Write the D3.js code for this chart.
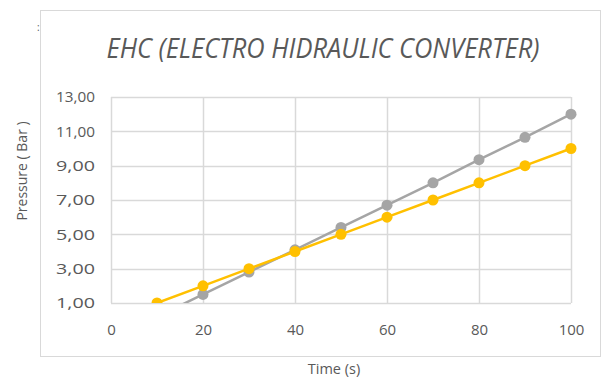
<!DOCTYPE html>
<html>
<head>
<meta charset="utf-8">
<script src="https://cdn.jsdelivr.net/npm/d3@7"></script>
<style>
  body { margin: 0; background: #fff; }
  text { font-family: "Open Sans", "Liberation Sans", sans-serif; fill: #595959; }
</style>
</head>
<body>
<div id="chart"></div>
<script>
// Chart data
var times = [10, 20, 30, 40, 50, 60, 70, 80, 90, 100];
var grayValues = [0.2, 1.5, 2.8, 4.1, 5.4, 6.7, 8.0, 9.35, 10.65, 12.0];
var yellowValues = [1, 2, 3, 4, 5, 6, 7, 8, 9, 10];
var xTicks = [0, 20, 40, 60, 80, 100];
var yTicks = [1, 3, 5, 7, 9, 11, 13];

var svgWidth = 605;
var svgHeight = 378;

var margin = { top: 97, right: 34, bottom: 75, left: 111 };
var width = svgWidth - margin.left - margin.right;
var height = svgHeight - margin.top - margin.bottom;

var svg = d3.select("#chart")
  .append("svg")
  .attr("width", svgWidth)
  .attr("height", svgHeight);

// outer chart frame
svg.append("rect")
  .attr("x", 40.5).attr("y", 10.5)
  .attr("width", 560).attr("height", 346)
  .attr("fill", "#fff")
  .attr("stroke", "#d9d9d9");

// stray mark left of the frame
svg.append("text")
  .attr("x", 37).attr("y", 31)
  .attr("font-size", 10)
  .attr("fill", "#595959")
  .text(":");

var chartGroup = svg.append("g")
  .attr("transform", `translate(${margin.left}, ${margin.top})`);

var xScale = d3.scaleLinear().domain([0, 100]).range([0, width]);
var yScale = d3.scaleLinear().domain([1, 13]).range([height, 0]);

// gridlines
chartGroup.append("g")
  .selectAll("line").data(yTicks).enter()
  .append("line")
  .attr("x1", 0).attr("x2", width)
  .attr("y1", d => Math.round(yScale(d)) + 0.5)
  .attr("y2", d => Math.round(yScale(d)) + 0.5)
  .attr("stroke", "#d9d9d9").attr("stroke-width", 1.5);

chartGroup.append("g")
  .selectAll("line").data(xTicks).enter()
  .append("line")
  .attr("y1", 0).attr("y2", height)
  .attr("x1", d => Math.round(xScale(d)) + 0.5)
  .attr("x2", d => Math.round(xScale(d)) + 0.5)
  .attr("stroke", "#d9d9d9").attr("stroke-width", 1.5);

// axes (labels only)
var bottomAxis = d3.axisBottom(xScale).tickValues(xTicks).tickSize(0).tickPadding(21);
var leftAxis = d3.axisLeft(yScale).tickValues(yTicks).tickSize(0).tickPadding(16)
  .tickFormat(d => d3.format(".2f")(d).replace(".", ","));

var xAxisG = chartGroup.append("g")
  .attr("transform", `translate(0, ${height})`)
  .call(bottomAxis);
var yAxisG = chartGroup.append("g").call(leftAxis);
[xAxisG, yAxisG].forEach(function(g) {
  g.select(".domain").remove();
  g.selectAll("text").attr("font-size", 15).attr("fill", "#595959")
    .style("font-family", "'Open Sans', sans-serif");
});
yAxisG.selectAll("text").attr("textLength", 39).attr("lengthAdjust", "spacingAndGlyphs");

// clip so the gray line stops at the bottom of the plot
chartGroup.append("clipPath").attr("id", "plotClip")
  .append("rect").attr("x", 0).attr("y", -10)
  .attr("width", width + 10).attr("height", height + 10);

function series(values, color) {
  var data = times.map((t, i) => ({ t: t, v: values[i] }));
  var g = chartGroup.append("g").attr("clip-path", "url(#plotClip)");
  g.append("path")
    .datum(data)
    .attr("fill", "none")
    .attr("stroke", color)
    .attr("stroke-width", 2.5)
    .attr("d", d3.line().x(d => xScale(d.t)).y(d => yScale(d.v)));
  g.selectAll("circle").data(data.filter(d => d.v >= 1)).enter()
    .append("circle")
    .attr("cx", d => xScale(d.t))
    .attr("cy", d => yScale(d.v))
    .attr("r", 5.5)
    .attr("fill", color);
}

series(grayValues, "#a5a5a5");
series(yellowValues, "#ffc000");

// title
svg.append("text")
  .attr("x", 323).attr("y", 58)
  .attr("text-anchor", "middle")
  .attr("font-size", 27)
  .attr("font-style", "italic")
  .attr("textLength", 433)
  .attr("lengthAdjust", "spacingAndGlyphs")
  .attr("fill", "#595959")
  .text("EHC (ELECTRO HIDRAULIC CONVERTER)");

// axis titles
svg.append("text")
  .attr("transform", "translate(27, 171) rotate(-90)")
  .attr("text-anchor", "middle")
  .attr("font-size", 14)
  .text("Pressure ( Bar )");

svg.append("text")
  .attr("x", 334).attr("y", 374)
  .attr("text-anchor", "middle")
  .attr("font-size", 14.5)
  .text("Time (s)");
</script>
</body>
</html>
